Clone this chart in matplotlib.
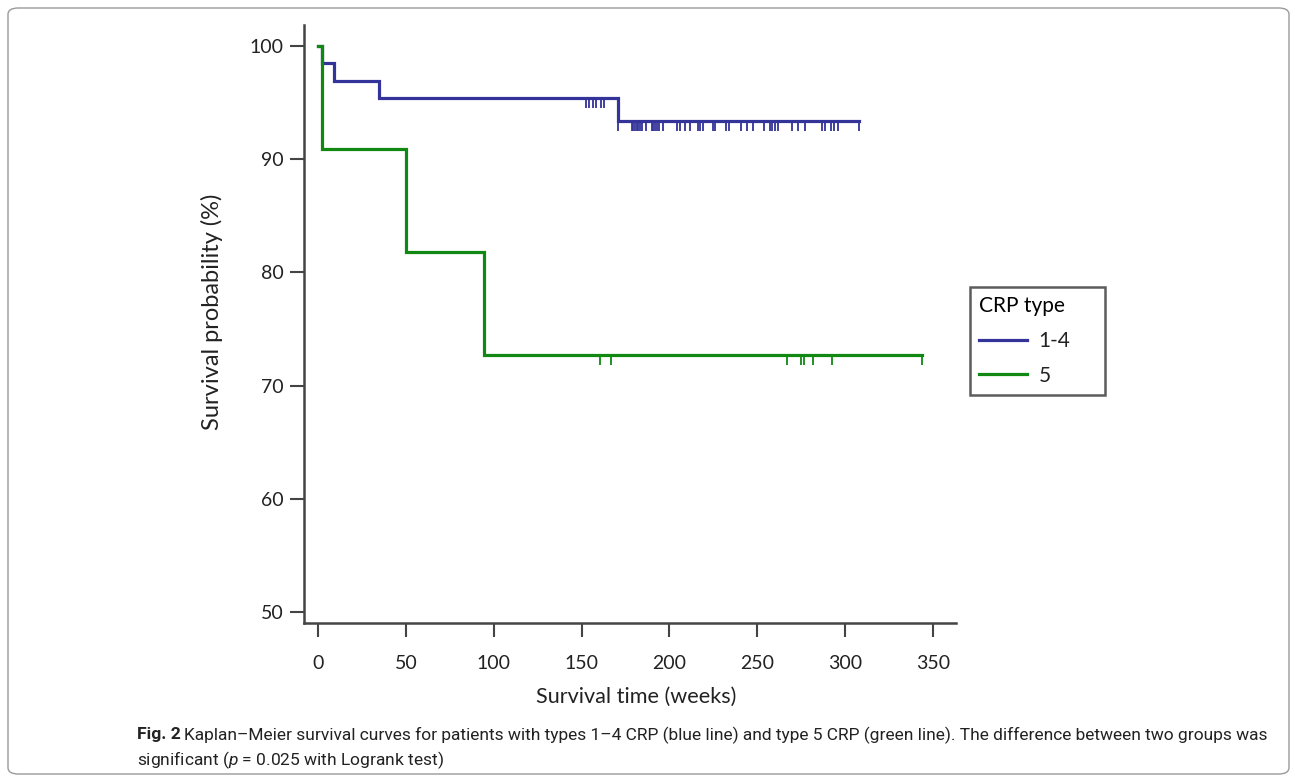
import matplotlib
matplotlib.use("Agg")
import matplotlib.pyplot as plt
from matplotlib.patches import FancyBboxPatch

# ---- data ----
blue_times = [0, 2, 9, 35, 171]
blue_surv = [100, 98.5, 96.9, 95.4, 93.4]
blue_end = 308
blue_censor = [152.5, 154, 156.5, 158, 161, 163,
               171, 178.5, 179.5, 180.4, 181.4, 182.3, 183.3, 184.2, 186.7,
               190, 190.8, 191.8, 193.1, 194.3, 196.5, 204.1, 206, 209, 211.5,
               216.5, 217.4, 219, 225, 226, 232.2, 234, 241, 244, 247.8, 254,
               257.3, 258.5, 260, 262, 270, 273, 277.5, 286.7, 288.6, 292,
               293.5, 296, 308]

green_times = [0, 2, 50, 94.5]
green_surv = [100, 90.9, 81.8, 72.7]
green_end = 344
green_censor = [160.5, 166.6, 267, 274.7, 276.6, 281.5, 292.5, 344]

legend_title = "CRP type"
labels = ["1-4", "5"]
xticks = [0, 50, 100, 150, 200, 250, 300, 350]
yticks = [50, 60, 70, 80, 90, 100]

BLUE = "#333399"
GREEN = "#118811"
SPINE = "#444444"

plt.rcParams['font.family'] = ['Lato', 'DejaVu Sans']
plt.rcParams['mathtext.fontset'] = 'custom'
plt.rcParams['mathtext.it'] = 'Roboto:italic'
plt.rcParams['mathtext.rm'] = 'Roboto'

W, H = 1295, 780
fig = plt.figure(figsize=(W / 100, H / 100), dpi=100)

# rounded frame
frame = FancyBboxPatch((8 / W, 6 / H), (1289 - 8) / W, (772 - 6) / H,
                       boxstyle="round,pad=0,rounding_size=0.008",
                       transform=fig.transFigure, fill=False,
                       edgecolor="#9a9a9a", linewidth=1.0)
fig.patches.append(frame)

ax = fig.add_axes([304.3 / W, 1 - 623 / H, (955.7 - 304.3) / W, (623 - 25) / H])


def step_curve(times, surv, end):
    xs = list(times) + [end]
    ys = list(surv) + [surv[-1]]
    return xs, ys


def surv_at(times, surv, t):
    val = surv[0]
    for tt, s in zip(times, surv):
        if t >= tt:
            val = s
    return val


bx, by = step_curve(blue_times, blue_surv, blue_end)
gx, gy = step_curve(green_times, green_surv, green_end)

ax.step(bx, by, where='post', color=BLUE, lw=2.3, label=labels[0], zorder=3,
        solid_joinstyle='miter')
ax.step(gx, gy, where='post', color=GREEN, lw=2.3, label=labels[1], zorder=3,
        solid_joinstyle='miter')

ax.plot(blue_censor, [surv_at(blue_times, blue_surv, t) for t in blue_censor],
        linestyle='none', marker=3, markersize=7, markeredgewidth=1.3,
        color=BLUE, zorder=3)
ax.plot(green_censor, [surv_at(green_times, green_surv, t) for t in green_censor],
        linestyle='none', marker=3, markersize=7, markeredgewidth=1.3,
        color=GREEN, zorder=3)

ax.set_xlim(-7.8, 363)
ax.set_ylim(49.03, 101.86)
ax.set_xticks(xticks)
ax.set_yticks(yticks)

for s in ['top', 'right']:
    ax.spines[s].set_visible(False)
for s in ['left', 'bottom']:
    ax.spines[s].set_color(SPINE)
    ax.spines[s].set_linewidth(1.8)

ax.tick_params(axis='x', direction='out', length=10, width=1.5, color=SPINE,
               pad=13, labelsize=14, labelcolor='#222222')
ax.tick_params(axis='y', direction='out', length=10, width=1.5, color=SPINE,
               pad=5, labelsize=14, labelcolor='#222222')

ax.set_xlabel("Survival time (weeks)", fontsize=15.6, color='#222222')
ax.set_ylabel("Survival probability (%)", fontsize=17, color='#222222')
ax.xaxis.set_label_coords(0.51, -0.107)
ax.yaxis.set_label_coords(-0.125, 0.52)

leg = ax.legend(title=legend_title, loc='upper left',
                bbox_to_anchor=(970 / W, 1 - 393 / H, 135 / W, 106 / H),
                bbox_transform=fig.transFigure, mode='expand',
                borderaxespad=0, fontsize=15,
                title_fontsize=15, frameon=True, fancybox=False,
                handlelength=2.3, handletextpad=0.55, borderpad=0.45,
                labelspacing=0.7, alignment='left')
leg.get_frame().set_edgecolor('#333333')
leg.get_frame().set_linewidth(1.8)
for t in leg.get_texts():
    t.set_color('#222222')

# caption
cap_font = ['Roboto', 'DejaVu Sans']
fig.text(137 / W, 1 - 735 / H, "Fig. 2", fontsize=12.6, fontweight='bold',
         family=cap_font, va='center', ha='left', color='#222222')
fig.text(184 / W, 1 - 735 / H,
         "Kaplan–Meier survival curves for patients with types 1–4 CRP (blue line) "
         "and type 5 CRP (green line). The difference between two groups was",
         fontsize=12.55, family=cap_font, va='center', ha='left', color='#222222')
fig.text(137 / W, 1 - 760 / H,
         r"significant ($p$ = 0.025 with Logrank test)",
         fontsize=12.55, family=cap_font, va='center', ha='left', color='#222222')

fig.savefig("out.png", dpi=100)
